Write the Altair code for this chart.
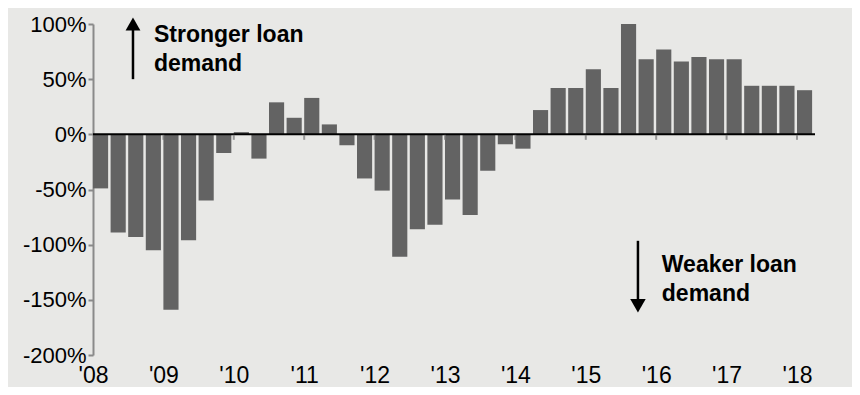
import altair as alt
import pandas as pd

# ---- data ----
quarters = [str(p) for p in pd.period_range("2008Q1", "2018Q1", freq="Q")]
demand = [-49, -89, -93, -105, -159, -96, -60, -17, 2, -22,
          29, 15, 33, 9, -10, -40, -51, -111, -86, -82,
          -59, -73, -33, -9, -13, 22, 42, 42, 59, 42,
          100, 68, 77, 66, 70, 68, 68, 44, 44, 44, 40]
year_ticks = list(range(2008, 2019))
y_ticks = [-200, -150, -100, -50, 0, 50, 100]

BAR_SPAN = 0.215  # fraction of a year covered by each quarterly bar

df = pd.DataFrame({"quarter": quarters, "demand": demand})
df["start"] = [int(q[:4]) + (int(q[-1]) - 1) / 4 for q in quarters]
df["end"] = df["start"] + BAR_SPAN

FONT = "Liberation Sans"
x_scale = alt.Scale(domain=[2008, 2018.256], nice=False, zero=False)
y_scale = alt.Scale(domain=[-200, 100], nice=False)

bars = alt.Chart(df).mark_bar(color="#636363").encode(
    x=alt.X("start:Q", scale=x_scale, title=None,
            axis=alt.Axis(values=year_ticks,
                          labelExpr="\"'\" + slice(toString(datum.value), 2)",
                          domain=False, ticks=False, tickSize=0, grid=False,
                          labelFontSize=23, labelPadding=9, labelColor="black",
                          labelFont=FONT, labelFlush=False)),
    x2="end:Q",
    y=alt.Y("demand:Q", scale=y_scale, title=None,
            axis=alt.Axis(values=y_ticks, labelExpr="datum.value + '%'",
                          grid=False, domainColor="#8a8a8a", domainWidth=2,
                          tickColor="#8a8a8a", tickWidth=2, tickSize=5,
                          labelPadding=2, labelFontSize=22, labelColor="black",
                          labelFont=FONT)),
    y2=alt.datum(0),
)

zero_line = alt.Chart(pd.DataFrame({"v": [0]})).mark_rule(
    color="black", strokeWidth=2).encode(y=alt.Y("v:Q", scale=y_scale))

year_marks = alt.Chart(pd.DataFrame({"year": year_ticks[1:]})).mark_tick(
    orient="vertical", size=5, thickness=2, color="#777777", yOffset=3
).encode(x=alt.X("year:Q", scale=x_scale), y=alt.datum(0))

one = pd.DataFrame({"k": [0]})

up_shaft = alt.Chart(one).mark_rule(color="black", strokeWidth=2.5).encode(
    x=alt.datum(2008.568), y=alt.datum(50), y2=alt.datum(97))
up_head = alt.Chart(one).mark_point(
    shape="triangle-up", filled=True, size=220, color="black", opacity=1,
    strokeWidth=0).encode(x=alt.datum(2008.568), y=alt.datum(100))

down_shaft = alt.Chart(one).mark_rule(color="black", strokeWidth=2.5).encode(
    x=alt.datum(2015.741), y=alt.datum(-96.5), y2=alt.datum(-152))
down_head = alt.Chart(one).mark_point(
    shape="triangle-down", filled=True, size=240, color="black", opacity=1,
    strokeWidth=0).encode(x=alt.datum(2015.741), y=alt.datum(-155.4))

def label(text, x, y):
    return alt.Chart(one).mark_text(
        text=text, align="left", baseline="alphabetic", fontSize=23,
        fontWeight="bold", font=FONT, color="black").encode(
        x=alt.datum(x), y=alt.datum(y))

texts = [
    label("Stronger loan", 2008.866, 83.7),
    label("demand", 2008.866, 57.7),
    label("Weaker loan", 2016.08, -125.1),
    label("demand", 2016.08, -151.1),
]

chart = alt.layer(bars, zero_line, year_marks, up_shaft, up_head,
                  down_shaft, down_head, *texts).properties(
    width=722, height=331,
    autosize=alt.AutoSizeParams(type="none"),
    padding={"left": 85, "top": 16, "right": 37, "bottom": 32},
    background="#e8e8e6",
).configure_view(stroke=None)

chart.save("out.html", embed_options={"renderer": "svg", "actions": False})
